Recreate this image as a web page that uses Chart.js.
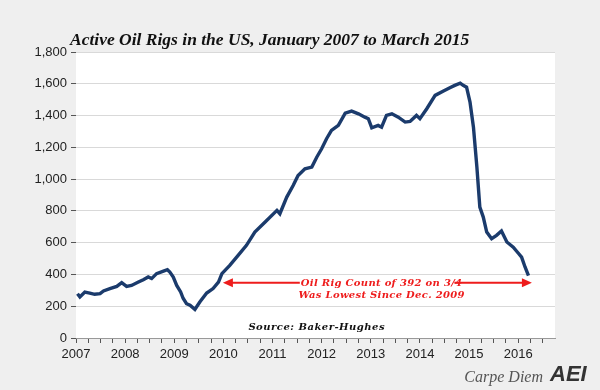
<!DOCTYPE html>
<html>
<head>
<meta charset="utf-8">
<script src="https://cdn.jsdelivr.net/npm/chart.js@4.4.1/dist/chart.umd.min.js"></script>
<style>
  html, body { margin: 0; padding: 0; background: #efefef; }
  #wrap { width: 600px; height: 390px; }
</style>
</head>
<body>
<div id="wrap"><canvas id="rigChart" width="600" height="390"></canvas></div>
<script>
// weekly rig count (decimal year, rigs)
const weeks = [
    2007.03, 2007.08, 2007.18, 2007.28, 2007.38, 2007.49, 2007.56, 2007.69, 2007.83, 2007.93,
    2008.03, 2008.13, 2008.27, 2008.37, 2008.47, 2008.54, 2008.64, 2008.78, 2008.86, 2008.91,
    2008.98, 2009.05, 2009.13, 2009.18, 2009.25, 2009.32, 2009.42, 2009.52, 2009.66, 2009.79,
    2009.90, 2009.97, 2010.13, 2010.30, 2010.47, 2010.64, 2010.85, 2011.09, 2011.15, 2011.29,
    2011.42, 2011.52, 2011.66, 2011.80, 2011.90, 2012.00, 2012.10, 2012.20, 2012.34, 2012.48,
    2012.61, 2012.75, 2012.88, 2012.95, 2013.02, 2013.15, 2013.22, 2013.32, 2013.43, 2013.56,
    2013.70, 2013.80, 2013.93, 2014.00, 2014.14, 2014.31, 2014.48, 2014.61, 2014.71, 2014.82,
    2014.88, 2014.95, 2015.02, 2015.09, 2015.16, 2015.22, 2015.29, 2015.36, 2015.46, 2015.56,
    2015.66, 2015.77, 2015.90, 2016.00, 2016.07, 2016.14, 2016.21
];
const rigs = [
    279, 258, 289, 283, 275, 279, 296, 311, 325, 348,
    325, 331, 352, 367, 384, 374, 405, 421, 430, 415,
    384, 331, 290, 250, 216, 206, 180, 226, 283, 311,
    352, 405, 457, 520, 583, 667, 730, 803, 782, 887,
    960, 1023, 1065, 1076, 1138, 1191, 1254, 1306, 1338, 1415,
    1428, 1411, 1390, 1380, 1323, 1338, 1327, 1401, 1411, 1390,
    1359, 1363, 1401, 1380, 1443, 1527, 1554, 1575, 1590, 1604,
    1590, 1579, 1485, 1327, 1076, 824, 761, 667, 625, 646,
    673, 604, 572, 535, 509, 447, 392
];
const yearLabels = ['2007', '2008', '2009', '2010', '2011', '2012', '2013', '2014', '2015', '2016'];
const noteLines = ['Oil Rig Count of 392 on 3/4', 'Was Lowest Since Dec. 2009'];

const points = weeks.map((w, i) => ({ x: w, y: rigs[i] }));

// page grey behind, white plot area
const backdrop = {
    id: 'backdrop',
    beforeDraw(chart) {
        const { ctx, chartArea: a } = chart;
        ctx.save();
        ctx.fillStyle = '#efefef';
        ctx.fillRect(0, 0, chart.width, chart.height);
        ctx.fillStyle = '#ffffff';
        ctx.fillRect(a.left, a.top, a.right - a.left, a.bottom - a.top);
        ctx.restore();
    }
};

// title, red arrow note, source and the Carpe Diem mark
const notes = {
    id: 'notes',
    afterDatasetsDraw(chart) {
        const ctx = chart.ctx;
        const x = chart.scales.x, y = chart.scales.y;
        ctx.save();

        ctx.fillStyle = '#111';
        ctx.font = 'italic bold 17.5px "Liberation Serif"';
        ctx.textAlign = 'left';
        ctx.textBaseline = 'alphabetic';
        ctx.fillText('Active Oil Rigs in the US, January 2007 to March 2015', 70, 45);

        // arrow
        const red = '#ee1c1c';
        const ay = y.getPixelForValue(348);
        const x1 = x.getPixelForValue(2009.99), x2 = x.getPixelForValue(2016.28);
        const cx = x.getPixelForValue(2013.22);
        ctx.font = 'italic bold 10px "DejaVu Serif"';
        ctx.letterSpacing = '0.3px';
        const w1 = ctx.measureText(noteLines[0]).width;
        ctx.strokeStyle = red;
        ctx.fillStyle = red;
        ctx.lineWidth = 2;
        ctx.beginPath();
        ctx.moveTo(x1 + 8, ay); ctx.lineTo(cx - w1 / 2 - 1, ay);
        ctx.moveTo(cx + w1 / 2 - 8, ay); ctx.lineTo(x2 - 8, ay);
        ctx.stroke();
        ctx.beginPath();
        ctx.moveTo(x1, ay); ctx.lineTo(x1 + 10, ay - 4.5); ctx.lineTo(x1 + 10, ay + 4.5); ctx.closePath();
        ctx.moveTo(x2, ay); ctx.lineTo(x2 - 10, ay - 4.5); ctx.lineTo(x2 - 10, ay + 4.5); ctx.closePath();
        ctx.fill();

        ctx.textAlign = 'center';
        ctx.textBaseline = 'middle';
        ctx.fillText(noteLines[0], cx, y.getPixelForValue(346));
        ctx.fillText(noteLines[1], cx, y.getPixelForValue(268));

        ctx.fillStyle = '#111';
        ctx.font = 'italic bold 10px "DejaVu Serif"';
        ctx.letterSpacing = '0.5px';
        ctx.fillText('Source: Baker-Hughes', x.getPixelForValue(2011.9), y.getPixelForValue(65));
        ctx.letterSpacing = '0px';

        ctx.fillStyle = '#555';
        ctx.font = 'italic 16px "Liberation Serif"';
        ctx.textAlign = 'right';
        ctx.fillText('Carpe Diem', 543, 378);
        ctx.fillStyle = '#333';
        ctx.font = 'italic bold 22px "Liberation Sans"';
        ctx.textAlign = 'left';
        ctx.fillText('AEI', 550, 375);

        ctx.restore();
    }
};

new Chart(document.getElementById('rigChart').getContext('2d'), {
    type: 'line',
    data: {
        datasets: [{
            label: 'Active Oil Rigs',
            data: points,
            borderColor: '#1b3b6c',
            borderWidth: 3.4,
            pointRadius: 0,
            tension: 0,
            fill: false
        }]
    },
    options: {
        responsive: false,
        animation: false,
        devicePixelRatio: 1,
        layout: { padding: { top: 52, right: 45, bottom: 0, left: 0 } },
        plugins: {
            legend: { display: false },
            title: { display: false },
            tooltip: { enabled: false }
        },
        scales: {
            x: {
                type: 'linear',
                min: 2007,
                max: 2016.75,
                afterBuildTicks: s => { s.ticks = s.ticks.filter(t => t.value <= 2016.5); },
                afterFit: s => { s.height = 52; },
                ticks: {
                    stepSize: 0.25,
                    autoSkip: false,
                    maxRotation: 0,
                    color: '#222',
                    font: { family: '"Liberation Sans", Arial', size: 13 },
                    padding: 4,
                    callback: v => Number.isInteger(v) ? yearLabels[v - 2007] : ''
                },
                grid: { drawOnChartArea: false, tickLength: 5, tickColor: '#555' },
                border: { display: true, color: '#999' }
            },
            y: {
                min: 0,
                max: 1800,
                afterFit: s => { s.width = 76; },
                ticks: {
                    stepSize: 200,
                    color: '#222',
                    font: { family: '"Liberation Sans", Arial', size: 13 },
                    padding: 4,
                    callback: v => v.toLocaleString('en-US')
                },
                grid: { color: '#d9d9d9', tickLength: 5, tickColor: '#555' },
                border: { display: false }
            }
        }
    },
    plugins: [backdrop, notes]
});
</script>
</body>
</html>
